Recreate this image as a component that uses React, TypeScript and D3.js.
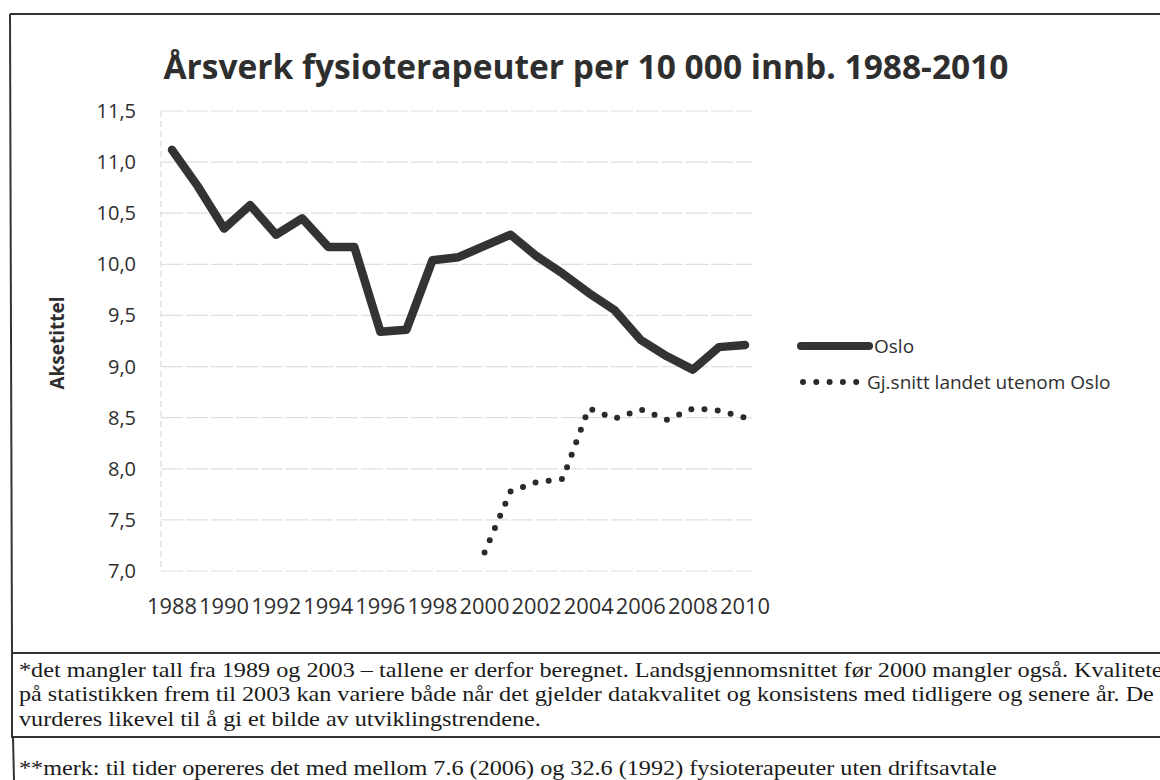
import React from 'react';
import * as d3 from 'd3';

// years on the category axis
const years = [1988, 1989, 1990, 1991, 1992, 1993, 1994, 1995, 1996, 1997, 1998, 1999,
    2000, 2001, 2002, 2003, 2004, 2005, 2006, 2007, 2008, 2009, 2010];
const yearLabels = ['1988', '1990', '1992', '1994', '1996', '1998', '2000', '2002', '2004', '2006', '2008', '2010'];

const osloValues = [11.12, 10.76, 10.35, 10.58, 10.29, 10.45, 10.17, 10.17, 9.34, 9.36, 10.04, 10.07,
    10.18, 10.29, 10.08, 9.91, 9.72, 9.55, 9.26, 9.10, 8.97, 9.19, 9.21];
const restValues = [null, null, null, null, null, null, null, null, null, null, null, null,
    7.18, 7.78, 7.87, 7.9, 8.59, 8.49, 8.58, 8.48, 8.59, 8.57, 8.5];

const yTicks = [7.0, 7.5, 8.0, 8.5, 9.0, 9.5, 10.0, 10.5, 11.0, 11.5];

const seriesNames = ['Oslo', 'Gj.snitt landet utenom Oslo'];

const title = 'Årsverk fysioterapeuter per 10 000 innb. 1988-2010';
const yTitle = 'Aksetittel';

const notes = [
    '*det mangler tall fra 1989 og 2003 – tallene er derfor beregnet. Landsgjennomsnittet før 2000 mangler også. Kvaliteten',
    'på statistikken frem til 2003 kan variere både når det gjelder datakvalitet og konsistens med tidligere og senere år. De',
    'vurderes likevel til å gi et bilde av utviklingstrendene.',
];
const note2 = '**merk: til tider opereres det med mellom 7.6 (2006) og 32.6 (1992) fysioterapeuter uten driftsavtale';

const W = 1160;
const H = 780;

const App = () => {
    const x = d3.scaleLinear().domain([1988, 2010]).range([172, 745]);
    const y = d3.scaleLinear().domain([7, 11.5]).range([571, 111]);

    const fmt = (v: number) => d3.format('.1f')(v).replace('.', ',');

    const osloLine = d3.line<number>()
        .x((d, i) => x(years[i]))
        .y((d) => y(d))
        .curve(d3.curveLinear);

    const restLine = d3.line<number | null>()
        .defined((d) => d != null)
        .x((d, i) => x(years[i]))
        .y((d) => y(d as number));

    const sans = 'Open Sans, sans-serif';
    const serif = 'Liberation Serif, serif';
    const ink = '#2e2e2e';

    return (
        <svg width={W} height={H} style={{ position: 'absolute', left: 0, top: 0, background: '#fff' }}>
            {/* chart frame */}
            <line x1={10} y1={14} x2={W} y2={14} stroke="#333" strokeWidth={2} />
            <line x1={10} y1={14} x2={12} y2={653} stroke="#333" strokeWidth={2} />

            <text x={586} y={79} textAnchor="middle" fontFamily={sans} fontWeight={700} fontSize={34}
                fill={ink} textLength={845} lengthAdjust="spacingAndGlyphs">{title}</text>

            {/* gridlines */}
            {yTicks.map((t) => (
                <line key={t} x1={161} x2={752} y1={y(t)} y2={y(t)} stroke="#dedede" strokeWidth={1.2}
                    strokeDasharray="22 3" />
            ))}
            <line x1={161} x2={161} y1={y(11.5)} y2={y(7)} stroke="#dadada" strokeWidth={1.2} strokeDasharray="6 4" />

            {/* y tick labels */}
            {yTicks.map((t) => (
                <text key={t} x={136} y={y(t)} dy="0.35em" textAnchor="end" fontFamily={sans}
                    fontSize={20} fill={ink}>{fmt(t)}</text>
            ))}

            <text transform={`translate(64, 343) rotate(-90)`} textAnchor="middle" fontFamily={sans}
                fontWeight={700} fontSize={19} fill={ink}>{yTitle}</text>

            {/* x labels */}
            {yearLabels.map((l) => (
                <text key={l} x={x(+l)} y={614} textAnchor="middle" fontFamily={sans} fontSize={21}
                    fill={ink} textLength={50} lengthAdjust="spacingAndGlyphs">{l}</text>
            ))}

            {/* series */}
            <path d={osloLine(osloValues) || ''} fill="none" stroke="#333" strokeWidth={8.5}
                strokeLinejoin="round" strokeLinecap="round" />
            <path d={restLine(restValues) || ''} fill="none" stroke="#2a2a2a" strokeWidth={6}
                strokeLinecap="round" strokeDasharray="0 13.3" />

            {/* legend */}
            <line x1={801} x2={869} y1={346} y2={346} stroke="#333" strokeWidth={8} strokeLinecap="round" />
            <text x={874} y={346} dy="0.35em" fontFamily={sans} fontSize={19} fill={ink}>{seriesNames[0]}</text>
            <line x1={803} x2={857} y1={382} y2={382} stroke="#2a2a2a" strokeWidth={6} strokeLinecap="round"
                strokeDasharray="0 13.3" />
            <text x={867} y={382} dy="0.35em" fontFamily={sans} fontSize={19} fill={ink}>{seriesNames[1]}</text>

            {/* footnote boxes */}
            <rect x={12} y={653} width={W} height={84} fill="none" stroke="#333" strokeWidth={2} />
            <line x1={13} x2={14} y1={737} y2={H} stroke="#333" strokeWidth={2} />
            <g transform="translate(19,0) scale(1.1,1)">
                {notes.map((n, i) => (
                    <text key={i} x={0} y={677 + i * 24.5} fontFamily={serif} fontSize={22}
                        fill="#1a1a1a">{n}</text>
                ))}
                <text x={0} y={775} fontFamily={serif} fontSize={22} fill="#1a1a1a">{note2}</text>
            </g>
        </svg>
    );
};

export default App;
